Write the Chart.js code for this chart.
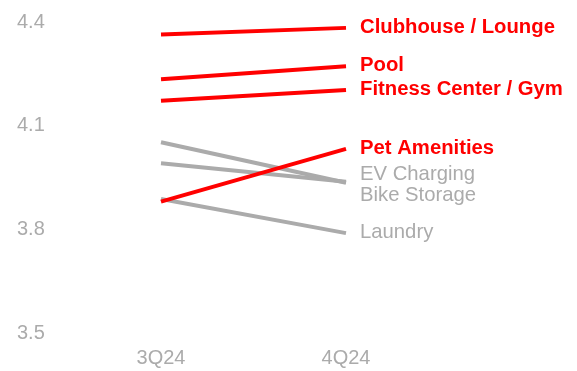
<!DOCTYPE html>
<html>
<head>
<meta charset="utf-8">
<script src="https://cdn.jsdelivr.net/npm/chart.js@4.4.1/dist/chart.umd.min.js"></script>
<style>
  html, body { margin: 0; padding: 0; background: #fff; }
  #wrap { width: 577px; height: 371px; }
</style>
</head>
<body>
<div id="wrap"><canvas id="chart"></canvas></div>
<script>
const quarters = ['3Q24', '4Q24'];
const yTicks = [3.5, 3.8, 4.1, 4.4];

const clubhouse = [4.364, 4.383];
const pool = [4.234, 4.272];
const fitness = [4.172, 4.203];
const petAmenities = [3.880, 4.033];
const evCharging = [3.991, 3.938];
const bikeStorage = [4.052, 3.935];
const laundry = [3.888, 3.789];

const seriesNames = ['Clubhouse / Lounge', 'Pool', 'Fitness Center / Gym', 'Pet Amenities', 'EV Charging', 'Bike Storage', 'Laundry'];
const seriesValues = [clubhouse, pool, fitness, petAmenities, evCharging, bikeStorage, laundry];
const highlighted = [true, true, true, true, false, false, false];

const RED = '#ff0000';
const GRAY = '#ababab';
const FONT = "'Liberation Sans', Arial, Helvetica, sans-serif";

// Labels at the right end of each line, pushed apart when they collide
const endLabels = {
  id: 'endLabels',
  afterDatasetsDraw(chart) {
    const ctx = chart.ctx;
    const gap = 21;
    const items = chart.data.datasets.map((ds, i) => {
      const pt = chart.getDatasetMeta(i).data[1];
      return { text: ds.label, x: pt.x + 14, y: pt.y - 0.5, bold: highlighted[i] };
    }).sort((a, b) => a.y - b.y);

    for (let pass = 0; pass < 10; pass++) {
      for (let i = 1; i < items.length; i++) {
        const overlap = gap - (items[i].y - items[i - 1].y);
        if (overlap > 0) {
          items[i - 1].y -= overlap / 3;
          items[i].y += overlap * 2 / 3;
        }
      }
    }

    ctx.save();
    ctx.textAlign = 'left';
    ctx.textBaseline = 'middle';
    items.forEach(it => {
      ctx.font = (it.bold ? 'bold ' : '') + '20.3px ' + FONT;
      ctx.fillStyle = it.bold ? RED : GRAY;
      ctx.fillText(it.text, it.x, it.y);
    });
    ctx.restore();
  }
};

const datasets = seriesNames.map((name, i) => ({
  label: name,
  data: seriesValues[i],
  borderColor: highlighted[i] ? RED : GRAY,
  borderWidth: 4,
  pointRadius: 0,
  tension: 0,
  clip: false
}));

new Chart(document.getElementById('chart'), {
  type: 'line',
  data: { labels: quarters, datasets },
  options: {
    responsive: true,
    maintainAspectRatio: false,
    animation: false,
    layout: { padding: { top: 22, left: 17, right: 231, bottom: 0 } },
    plugins: { legend: { display: false }, tooltip: { enabled: false } },
    scales: {
      x: {
        offset: false,
        grid: { display: false, drawTicks: false },
        border: { display: false },
        ticks: { color: GRAY, font: { family: FONT, size: 20 }, padding: 13, maxRotation: 0 },
        afterFit(scale) { scale.height = 38; }
      },
      y: {
        min: 3.5,
        max: 4.4,
        afterBuildTicks(scale) { scale.ticks = yTicks.map(v => ({ value: v })); },
        grid: { display: false, drawTicks: false },
        border: { display: false },
        ticks: {
          color: GRAY,
          font: { family: FONT, size: 20 },
          crossAlign: 'far',
          callback: v => v.toFixed(1)
        },
        afterFit(scale) { scale.width = 144; }
      }
    }
  },
  plugins: [endLabels]
});
</script>
</body>
</html>
